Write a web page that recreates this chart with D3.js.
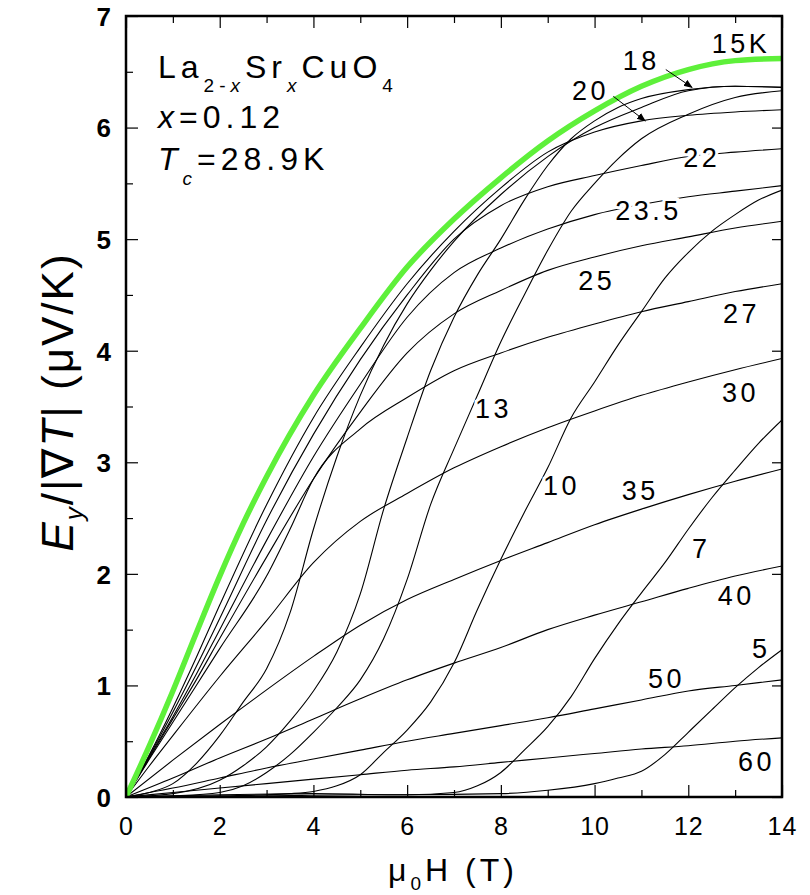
<!DOCTYPE html>
<html><head><meta charset="utf-8">
<script src="https://cdn.jsdelivr.net/npm/d3@7"></script>
<style>
body{margin:0;background:#fff}
svg{display:block}
text{font-family:"Liberation Sans",Arial,Helvetica,sans-serif;fill:#000}
</style>
</head><body>
<svg id="chart" width="810" height="895"></svg>
<script>
// Tick values of both axes
const fieldTicks = [0, 2, 4, 6, 8, 10, 12, 14];
const fieldMinorTicks = [1, 3, 5, 7, 9, 11, 13];
const signalTicks = [0, 1, 2, 3, 4, 5, 6, 7];
const signalMinorTicks = [0.5, 1.5, 2.5, 3.5, 4.5, 5.5, 6.5];

// Nernst signal e_y (μV/K) against field μ0H (T), one array per temperature
const T5 = [[0,0],[2,0.02],[4,0.03],[6,0.02],[8,0.03],[9,0.06],[10,0.12],[10.5,0.17],[11,0.23],[11.5,0.38],[12,0.58],[12.5,0.78],[13,0.98],[13.5,1.16],[14,1.32]];
const T7 = [[0,0],[3,0.01],[5,0.02],[6,0.02],[7,0.04],[7.5,0.1],[8,0.22],[8.5,0.42],[9,0.63],[9.5,0.9],[10,1.24],[10.5,1.55],[11,1.83],[11.5,2.1],[12,2.4],[12.5,2.68],[13,2.93],[13.5,3.17],[14,3.38]];
const T10 = [[0,0],[2,0.01],[3,0.02],[3.5,0.03],[4,0.05],[4.5,0.1],[5,0.2],[5.5,0.4],[6,0.6],[6.5,0.85],[7,1.2],[7.5,1.68],[8,2.13],[8.5,2.55],[9,2.95],[9.5,3.4],[10,3.72],[10.5,4.05],[11,4.35],[11.5,4.65],[12,4.88],[12.5,5.07],[13,5.22],[13.5,5.35],[14,5.44]];
const T13 = [[0,0],[1,0.01],[2,0.04],[2.5,0.1],[3,0.22],[3.5,0.38],[4,0.58],[4.5,0.8],[5,1.05],[5.5,1.42],[6,1.95],[6.5,2.62],[7,3.12],[7.5,3.6],[8,4.08],[8.5,4.5],[9,4.9],[9.5,5.25],[10,5.5],[10.5,5.72],[11,5.9],[12,6.12],[13,6.27],[14,6.33]];
const T15 = [[0,0],[1,0.03],[2,0.15],[2.5,0.28],[3,0.45],[3.5,0.68],[4,0.95],[4.5,1.3],[5,1.82],[5.5,2.58],[6,3.22],[6.5,3.82],[7,4.3],[7.5,4.68],[8,5.0],[8.5,5.35],[9,5.66],[9.5,5.9],[10,6.06],[10.5,6.18],[11,6.26],[12,6.34],[13,6.37],[14,6.36]];
const T18 = [[0,0],[0.5,0.04],[1,0.12],[1.5,0.3],[2,0.55],[2.5,0.85],[3,1.15],[3.5,1.65],[4,2.4],[4.5,3.05],[5,3.6],[5.5,4.05],[6,4.42],[6.5,4.72],[7,4.98],[8,5.4],[9,5.74],[10,6.0],[11,6.18],[12,6.33],[13,6.37],[14,6.36]];
const T20 = [[0,0],[0.5,0.38],[1,0.8],[1.5,1.25],[2,1.72],[3,2.62],[4,3.4],[5,4.03],[6,4.6],[7,5.07],[8,5.46],[9,5.78],[10,5.96],[11,6.06],[12,6.11],[13,6.14],[14,6.16]];
const T22 = [[0,0],[0.5,0.37],[1,0.76],[1.5,1.17],[2,1.6],[3,2.48],[4,3.25],[5,3.92],[6,4.5],[7,5.0],[8,5.3],[9,5.47],[10,5.57],[11,5.66],[12,5.74],[13,5.78],[14,5.81]];
const T235 = [[0,0],[0.5,0.36],[1,0.72],[1.5,1.1],[2,1.5],[3,2.3],[4,3.05],[5,3.7],[6,4.3],[7,4.7],[8,4.92],[9,5.09],[10,5.22],[11,5.31],[12,5.38],[13,5.43],[14,5.48]];
const T25 = [[0,0],[0.5,0.35],[1,0.7],[1.5,1.05],[2,1.42],[3,2.15],[4,2.85],[5,3.45],[6,3.98],[7,4.33],[8,4.54],[9,4.72],[10,4.84],[11,4.94],[12,5.02],[13,5.1],[14,5.16]];
const T27 = [[0,0],[0.5,0.34],[1,0.67],[1.5,1.0],[2,1.33],[3,1.98],[3.5,2.4],[4,2.85],[5,3.3],[6,3.58],[7,3.82],[8,3.98],[9,4.12],[10,4.24],[11,4.35],[12,4.44],[13,4.53],[14,4.6]];
const T30 = [[0,0],[0.5,0.28],[1,0.55],[2,1.08],[3,1.58],[4,2.1],[5,2.47],[6,2.72],[7,2.95],[8,3.14],[9,3.31],[10,3.46],[11,3.6],[12,3.72],[13,3.83],[14,3.93]];
const T35 = [[0,0],[1,0.33],[2,0.65],[3,0.96],[4,1.26],[5,1.54],[6,1.77],[7,1.95],[8,2.12],[9,2.28],[10,2.44],[11,2.58],[12,2.71],[13,2.83],[14,2.94]];
const T40 = [[0,0],[1,0.17],[2,0.35],[3,0.52],[4,0.7],[5,0.88],[6,1.05],[7,1.2],[8,1.34],[9,1.5],[10,1.63],[11,1.75],[12,1.87],[13,1.98],[14,2.07]];
const T50 = [[0,0],[1,0.08],[2,0.17],[3,0.26],[4,0.34],[5,0.42],[6,0.5],[7,0.57],[8,0.64],[9,0.71],[10,0.79],[11,0.87],[12,0.95],[13,1.0],[14,1.05]];
const T60 = [[0,0],[1,0.04],[2,0.08],[3,0.12],[4,0.16],[5,0.2],[6,0.24],[7,0.27],[8,0.31],[9,0.35],[10,0.39],[11,0.43],[12,0.46],[13,0.5],[14,0.53]];
// Envelope of the family, highlighted in green
const envelope = [[0,0],[0.5,0.46],[1,0.95],[1.5,1.47],[2,1.98],[2.5,2.45],[3,2.87],[4,3.6],[5,4.2],[6,4.75],[7,5.18],[8,5.55],[9,5.88],[10,6.15],[11,6.37],[12,6.52],[13,6.6],[14,6.62]];

const curves = [T60, T50, T40, T35, T30, T27, T25, T235, T22, T20, T18, T15, T13, T10, T7, T5];

// Temperature labels and where they sit (data units, text start / baseline)
const labelText = ["15K", "18", "20", "22", "23.5", "25", "27", "13", "30", "10", "35", "7", "40", "5", "50", "60"];
const labelAt = [[12.5,6.67],[10.6,6.52],[9.52,6.25],[11.89,5.65],[10.44,5.17],[9.65,4.54],[12.74,4.25],[7.45,3.40],[12.72,3.54],[8.9,2.71],[10.58,2.66],[12.08,2.14],[12.63,1.72],[13.36,1.25],[11.14,0.98],[13.06,0.23]];
// Leader arrows for the two crowded labels: [from, to]
const arrows = [[[11.52,6.52],[12.08,6.36]], [[10.4,6.28],[11.08,6.06]]];

const svg = d3.select("#chart");
const M = {left: 126, right: 782, top: 16, bottom: 797};
const x = d3.scaleLinear().domain([0, 14]).range([M.left, M.right]);
const y = d3.scaleLinear().domain([0, 7]).range([M.bottom, M.top]);

const defs = svg.append("defs");
defs.append("clipPath").attr("id", "plot")
  .append("rect").attr("x", M.left).attr("y", M.top)
  .attr("width", M.right - M.left).attr("height", M.bottom - M.top);
defs.append("marker").attr("id", "head")
  .attr("viewBox", "0 0 10 10").attr("refX", 9).attr("refY", 5)
  .attr("markerWidth", 9).attr("markerHeight", 9).attr("orient", "auto")
  .attr("markerUnits", "userSpaceOnUse")
  .append("path").attr("d", "M0,1 L10,5 L0,9 Z").attr("fill", "#000");

const line = d3.line().x(d => x(d[0])).y(d => y(d[1])).curve(d3.curveMonotoneX);

const plot = svg.append("g").attr("clip-path", "url(#plot)");
plot.selectAll("path.curve").data(curves).join("path")
  .attr("class", "curve").attr("d", line)
  .attr("fill", "none").attr("stroke", "#000").attr("stroke-width", 1.1);
plot.append("path").datum(envelope).attr("d", line)
  .attr("fill", "none").attr("stroke", "#5ef03a").attr("stroke-width", 5.5)
  .attr("stroke-linecap", "round");

// Temperature labels
svg.append("g").selectAll("text").data(labelText).join("text")
  .attr("x", (d, i) => x(labelAt[i][0])).attr("y", (d, i) => y(labelAt[i][1]))
  .attr("font-size", 27).attr("letter-spacing", 3.5)
  .attr("stroke", "#fff").attr("stroke-width", 6).attr("paint-order", "stroke")
  .text(d => d);

svg.append("g").selectAll("line").data(arrows).join("line")
  .attr("x1", d => x(d[0][0])).attr("y1", d => y(d[0][1]))
  .attr("x2", d => x(d[1][0])).attr("y2", d => y(d[1][1]))
  .attr("stroke", "#000").attr("stroke-width", 1).attr("marker-end", "url(#head)");

// Axes: ticks point into the frame on all four sides
const gx = svg.append("g").attr("transform", `translate(0,${M.bottom})`)
  .call(d3.axisBottom(x).tickValues(fieldTicks).tickSize(-12).tickPadding(20).tickFormat(d3.format("d")));
svg.append("g").attr("transform", `translate(0,${M.bottom})`)
  .call(d3.axisBottom(x).tickValues(fieldMinorTicks).tickSize(-7).tickFormat(""));
svg.append("g").attr("transform", `translate(0,${M.top})`)
  .call(d3.axisTop(x).tickValues(fieldTicks).tickSize(-12).tickFormat(""));
svg.append("g").attr("transform", `translate(0,${M.top})`)
  .call(d3.axisTop(x).tickValues(fieldMinorTicks).tickSize(-7).tickFormat(""));
const gy = svg.append("g").attr("transform", `translate(${M.left},0)`)
  .call(d3.axisLeft(y).tickValues(signalTicks).tickSize(-12).tickPadding(15).tickFormat(d3.format("d")));
svg.append("g").attr("transform", `translate(${M.left},0)`)
  .call(d3.axisLeft(y).tickValues(signalMinorTicks).tickSize(-7).tickFormat(""));
svg.append("g").attr("transform", `translate(${M.right},0)`)
  .call(d3.axisRight(y).tickValues(signalTicks).tickSize(-10).tickFormat(""));

svg.selectAll(".domain").remove();
svg.selectAll(".tick line").attr("stroke", "#000").attr("stroke-width", 1.2);
gx.selectAll("text").attr("font-size", 25).attr("font-family", "'Liberation Sans Narrow','Liberation Sans',sans-serif").attr("letter-spacing", 1);
gy.selectAll("text").attr("font-size", 26).attr("font-weight", "bold").attr("dy", "0.36em");

svg.append("rect").attr("x", M.left).attr("y", M.top)
  .attr("width", M.right - M.left).attr("height", M.bottom - M.top)
  .attr("fill", "none").attr("stroke", "#000").attr("stroke-width", 2.5);

// Axis titles
const xt = svg.append("text").attr("x", 453).attr("y", 881).attr("text-anchor", "middle")
  .attr("font-size", 32).attr("letter-spacing", 4);
xt.append("tspan").text("μ");
xt.append("tspan").attr("font-size", 19).attr("dy", 9).text("0");
xt.append("tspan").attr("dy", -9).text("H (T)");

const yt = svg.append("text").attr("transform", "translate(73,402) rotate(-90)")
  .attr("text-anchor", "middle").attr("font-size", 44).attr("letter-spacing", 2);
yt.append("tspan").attr("font-style", "italic").text("E");
yt.append("tspan").attr("font-style", "italic").attr("font-size", 26).attr("dy", 10).text("y");
yt.append("tspan").attr("dy", -10).text("/|∇");
yt.append("tspan").attr("font-style", "italic").text("T");
yt.append("tspan").text("| (μV/K)");

// Sample annotation
const note = svg.append("g").attr("font-size", 32);
const n1 = note.append("text").attr("x", 158).attr("y", 78).attr("letter-spacing", 5);
n1.append("tspan").text("La");
n1.append("tspan").attr("font-size", 19).attr("dy", 14).text("2-");
n1.append("tspan").attr("font-size", 19).attr("font-style", "italic").text("x");
n1.append("tspan").attr("dy", -14).text("Sr");
n1.append("tspan").attr("font-size", 19).attr("font-style", "italic").attr("dy", 14).text("x");
n1.append("tspan").attr("dy", -14).text("CuO");
n1.append("tspan").attr("font-size", 19).attr("dy", 14).text("4");
const n2 = note.append("text").attr("x", 158).attr("y", 128).attr("letter-spacing", 5);
n2.append("tspan").attr("font-style", "italic").text("x");
n2.append("tspan").text("=0.12");
const n3 = note.append("text").attr("x", 158).attr("y", 170).attr("letter-spacing", 5);
n3.append("tspan").attr("font-style", "italic").text("T");
n3.append("tspan").attr("font-size", 19).attr("font-style", "italic").attr("dy", 15).text("c");
n3.append("tspan").attr("dy", -15).text("=28.9K");
</script>
</body></html>
